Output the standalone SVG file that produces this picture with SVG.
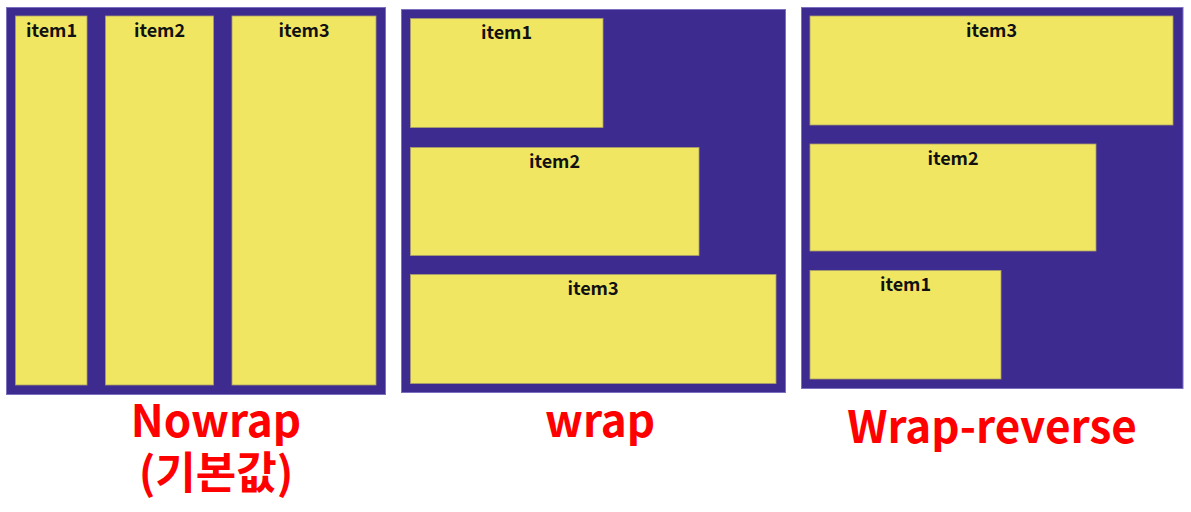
<svg xmlns="http://www.w3.org/2000/svg" width="1191" height="512" viewBox="0 0 1191 512">
<style>
.box{fill:#3e2b8f;stroke:#7b6fc0;stroke-width:1}
.item{fill:#f0e662;stroke:#a89f6a;stroke-width:0.8}
.lbl{font-family:"Noto Sans CJK KR","Noto Sans",sans-serif;font-weight:bold;font-size:18px;fill:#111;text-anchor:middle}
.title{font-family:"Noto Sans CJK KR","Noto Sans",sans-serif;font-weight:bold;font-size:44px;fill:#ff0000;text-anchor:middle}
</style>
<rect width="1191" height="512" fill="#ffffff"/>
<g id="nowrap">
<rect class="box" x="6.5" y="7.5" width="379" height="387"/>
<g id="nowrap-item1"><rect class="item" x="15.5" y="16" width="71.5" height="369"/><text class="lbl" x="51.5" y="37">item1</text></g>
<g id="nowrap-item2"><rect class="item" x="105.5" y="16" width="108" height="369"/><text class="lbl" x="159.5" y="37">item2</text></g>
<g id="nowrap-item3"><rect class="item" x="232" y="16" width="144" height="369"/><text class="lbl" x="304" y="37">item3</text></g>
<text class="title" x="216" y="437">Nowrap</text>
<text class="title" x="216" y="489">(기본값)</text>
</g>
<g id="wrap">
<rect class="box" x="401.5" y="9.5" width="384" height="383"/>
<g id="wrap-item1"><rect class="item" x="410.5" y="18.5" width="192.5" height="109"/><text class="lbl" x="506.5" y="39">item1</text></g>
<g id="wrap-item2"><rect class="item" x="410.5" y="147.5" width="288.5" height="108"/><text class="lbl" x="554.5" y="168">item2</text></g>
<g id="wrap-item3"><rect class="item" x="410.5" y="274.5" width="365.5" height="109"/><text class="lbl" x="593" y="295">item3</text></g>
<text class="title" x="600" y="437">wrap</text>
</g>
<g id="wrap-reverse">
<rect class="box" x="801.5" y="7.5" width="381.5" height="381"/>
<g id="wr-item3"><rect class="item" x="810" y="16" width="363" height="109"/><text class="lbl" x="991.5" y="37">item3</text></g>
<g id="wr-item2"><rect class="item" x="810" y="144" width="286" height="107"/><text class="lbl" x="953" y="165">item2</text></g>
<g id="wr-item1"><rect class="item" x="810" y="270.5" width="191" height="108.5"/><text class="lbl" x="905.5" y="291">item1</text></g>
<text class="title" x="992" y="443">Wrap-reverse</text>
</g>
<g id="connectors"/>
</svg>
